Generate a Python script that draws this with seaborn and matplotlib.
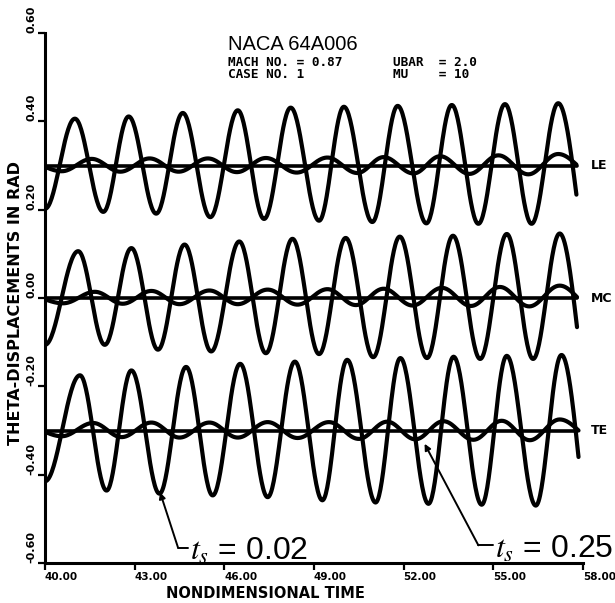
import numpy as np
import pandas as pd
import matplotlib
matplotlib.use("Agg")
import matplotlib.pyplot as plt
import matplotlib.transforms as mtransforms
import seaborn as sns

# Stations along the chord and the vertical offset each trace is drawn at
STATIONS = ["LE", "MC", "TE"]
OFFSETS = [0.30, 0.00, -0.30]

# Turning points (time, displacement) of each response, t_s = 0.02
LE_002_T = [40.00, 41.00, 41.95, 42.80, 43.72, 44.61, 45.53, 46.45, 47.33, 48.22, 49.17,
            50.00, 50.95, 51.80, 52.76, 53.61, 54.50, 55.39, 56.28, 57.17, 57.78]
LE_002_V = [-0.098, 0.106, -0.105, 0.111, -0.109, 0.119, -0.117, 0.125, -0.121, 0.131, -0.125,
            0.133, -0.128, 0.135, -0.131, 0.137, -0.132, 0.139, -0.132, 0.141, -0.066]
MC_002_T = [40.00, 41.11, 42.00, 42.89, 43.78, 44.67, 45.56, 46.50, 47.39, 48.28, 49.17,
            50.06, 50.98, 51.87, 52.78, 53.65, 54.56, 55.45, 56.33, 57.22, 57.80]
MC_002_V = [-0.106, 0.106, -0.106, 0.113, -0.117, 0.121, -0.121, 0.128, -0.125, 0.134, -0.127,
            0.136, -0.134, 0.139, -0.136, 0.141, -0.138, 0.145, -0.138, 0.146, -0.066]
TE_002_T = [40.00, 41.17, 42.06, 42.89, 43.83, 44.72, 45.61, 46.53, 47.45, 48.36, 49.28,
            50.11, 51.06, 51.89, 52.83, 53.67, 54.61, 55.45, 56.42, 57.28, 57.85]
TE_002_V = [-0.115, 0.125, -0.136, 0.136, -0.143, 0.144, -0.147, 0.151, -0.151, 0.156, -0.158,
            0.160, -0.163, 0.164, -0.166, 0.167, -0.168, 0.169, -0.170, 0.171, -0.060]

# Turning points of each response, t_s = 0.25
LE_025_T = [40.00, 40.56, 41.56, 42.52, 43.50, 44.47, 45.45, 46.42, 47.39, 48.42,
            49.45, 50.45, 51.33, 52.33, 53.22, 54.20, 55.17, 56.17, 57.17, 57.78]
LE_025_V = [-0.003, -0.013, 0.015, -0.014, 0.016, -0.014, 0.016, -0.015, 0.017, -0.016,
            0.018, -0.017, 0.019, -0.018, 0.021, -0.019, 0.023, -0.020, 0.026, 0.002]
MC_025_T = [40.00, 40.60, 41.67, 42.60, 43.56, 44.50, 45.50, 46.45, 47.45, 48.45,
            49.45, 50.40, 51.33, 52.30, 53.28, 54.25, 55.22, 56.20, 57.22, 57.80]
MC_025_V = [-0.003, -0.012, 0.014, -0.013, 0.016, -0.014, 0.017, -0.014, 0.019, -0.015,
            0.020, -0.016, 0.021, -0.017, 0.023, -0.018, 0.025, -0.019, 0.028, 0.002]
TE_025_T = [40.00, 40.56, 41.61, 42.56, 43.56, 44.50, 45.50, 46.45, 47.45, 48.45,
            49.50, 50.50, 51.45, 52.39, 53.33, 54.33, 55.28, 56.22, 57.22, 57.85]
TE_025_V = [-0.003, -0.013, 0.017, -0.015, 0.018, -0.016, 0.018, -0.016, 0.019, -0.017,
            0.019, -0.019, 0.020, -0.020, 0.021, -0.021, 0.022, -0.022, 0.025, 0.000]

X_TICKS = [40.0, 43.0, 46.0, 49.0, 52.0, 55.0, 58.0]
Y_TICKS = [-0.60, -0.40, -0.20, 0.00, 0.20, 0.40, 0.60]
T_END = 57.80

CURVES = {
    ("LE", "0.02"): (LE_002_T, LE_002_V, False),
    ("MC", "0.02"): (MC_002_T, MC_002_V, False),
    ("TE", "0.02"): (TE_002_T, TE_002_V, False),
    ("LE", "0.25"): (LE_025_T, LE_025_V, True),
    ("MC", "0.25"): (MC_025_T, MC_025_V, True),
    ("TE", "0.25"): (TE_025_T, TE_025_V, True),
}


def swing(times, values, open_start, n=36):
    """Join successive turning points with cosine-shaped arcs."""
    ts, ys = [], []
    last = len(times) - 2
    for i in range(len(times) - 1):
        t0, t1 = times[i], times[i + 1]
        v0, v1 = values[i], values[i + 1]
        s = np.linspace(0.0, 1.0, n, endpoint=(i == last))
        if i == 0 and open_start:
            w = np.sin(0.5 * np.pi * s)
        elif i == last:
            w = 1.0 - np.cos(0.5 * np.pi * s)
        else:
            w = 0.5 * (1.0 - np.cos(np.pi * s))
        ts.append(t0 + (t1 - t0) * s)
        ys.append(v0 + (v1 - v0) * w)
    return np.concatenate(ts), np.concatenate(ys)


frames = []
for (station, case), (tt, vv, open_start) in CURVES.items():
    off = OFFSETS[STATIONS.index(station)]
    t, v = swing(tt, vv, open_start)
    frames.append(pd.DataFrame({"time": t, "theta": v + off,
                                "curve": f"{station}-{case}"}))
df = pd.concat(frames, ignore_index=True)

sns.set_theme(style="ticks")
plt.rcParams["font.family"] = ["DejaVu Sans"]
plt.rcParams["mathtext.fontset"] = "stix"
for key in ("text.color", "axes.labelcolor", "xtick.color", "ytick.color",
            "axes.edgecolor"):
    plt.rcParams[key] = "black"

fig = plt.figure(figsize=(6.15, 6.03), dpi=100)
fig.patch.set_facecolor("white")
ax = fig.add_axes([45 / 615, 1 - 563 / 603, 538 / 615, 530 / 603])
ax.set_facecolor("white")

sns.lineplot(data=df, x="time", y="theta", units="curve", estimator=None,
             sort=False, color="black", lw=3.0, ax=ax, legend=False)

for off in OFFSETS:
    ax.plot([X_TICKS[0], T_END], [off, off], color="black", lw=2.6,
            solid_capstyle="round")

ax.set_xlim(X_TICKS[0], X_TICKS[-1])
ax.set_ylim(Y_TICKS[0], Y_TICKS[-1])
ax.set_xticks(X_TICKS)
ax.set_yticks(Y_TICKS)
ax.set_xticklabels([f"{v:.2f}" for v in X_TICKS], fontsize=7.5, fontweight="bold",
                   ha="left")
ax.set_yticklabels([f"{v:.2f}" for v in Y_TICKS], fontsize=8, fontweight="bold",
                   rotation=90, va="bottom")
shift = mtransforms.ScaledTranslation(-0.07, 0, fig.dpi_scale_trans)
for lab in ax.get_xticklabels():
    lab.set_transform(lab.get_transform() + shift)
ax.tick_params(axis="x", direction="out", length=5, width=1.6, pad=1.5, color="black")
ax.tick_params(axis="y", direction="out", length=5, width=1.6, pad=1, color="black")
for side in ("left", "bottom"):
    ax.spines[side].set_linewidth(2.2)
    ax.spines[side].set_color("black")
sns.despine(ax=ax)

ax.set_xlabel("NONDIMENSIONAL TIME", fontsize=10.5, fontweight="bold")
ax.xaxis.set_label_coords(0.41, -0.043)
ax.set_ylabel("THETA-DISPLACEMENTS IN RAD", fontsize=11.5, fontweight="bold")
ax.yaxis.set_label_coords(-0.040, 0.49)

for station, off in zip(STATIONS, OFFSETS):
    ax.text(58.25, off, station, fontsize=9, fontweight="bold", va="center",
            ha="left", clip_on=False)

fig.text(228 / 615, 1 - 44 / 603, "NACA 64A006", fontsize=14.5, va="center",
         family="Liberation Sans")
mono = dict(family="DejaVu Sans Mono", fontweight="bold", fontsize=9.2, va="center")
fig.text(228 / 615, 1 - 62 / 603, "MACH NO. = 0.87", **mono)
fig.text(393 / 615, 1 - 62 / 603, "UBAR  = 2.0", **mono)
fig.text(228 / 615, 1 - 75 / 603, "CASE NO. 1", **mono)
fig.text(393 / 615, 1 - 75 / 603, "MU    = 10", **mono)

# Callouts naming the two responses
ann = dict(family="Liberation Sans", fontsize=23, va="center", ha="left")
ax.text(44.85, -0.575, r"$t_s$ = 0.02", **ann)
ax.plot([44.80, 44.45], [-0.565, -0.565], color="black", lw=1.4)
ax.annotate("", xy=(43.85, -0.440), xytext=(44.45, -0.565),
            arrowprops=dict(arrowstyle="-|>", color="black", lw=1.4,
                            mutation_scale=9, shrinkA=0, shrinkB=0))
ax.text(55.05, -0.570, r"$t_s$ = 0.25", **ann)
ax.plot([55.00, 54.50], [-0.560, -0.560], color="black", lw=1.4)
ax.annotate("", xy=(52.70, -0.330), xytext=(54.50, -0.560),
            arrowprops=dict(arrowstyle="-|>", color="black", lw=1.4,
                            mutation_scale=9, shrinkA=0, shrinkB=0))

fig.savefig("out.png", dpi=100, facecolor="white")
